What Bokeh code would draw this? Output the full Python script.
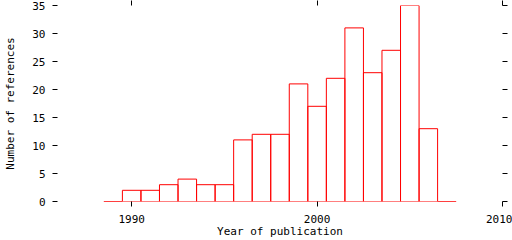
from bokeh.plotting import figure
from bokeh.models import (Range1d, LinearAxis, FixedTicker, ColumnDataSource,
                          CustomLabelingPolicy)
from bokeh.embed import file_html
from bokeh.resources import INLINE

years = list(range(1989, 2008))
counts = [0, 2, 2, 3, 4, 3, 3, 11, 12, 12, 21, 17, 22, 31, 23, 27, 35, 13, 0]
x_ticks = [1990, 2000, 2010]
y_ticks = [0, 5, 10, 15, 20, 25, 30, 35]
x_title = "Year of publication"
y_title = "Number of references"

src = ColumnDataSource(dict(
    left=[y - 0.5 for y in years],
    right=[y + 0.5 for y in years],
    top=counts,
    bottom=[0] * len(years),
))

FONT = "DejaVu Sans Mono"
FS = "11px"
W, H = 512, 240
ML, MR, MT, MB = 57, 10, 5, 39

p = figure(width=W, height=H, output_backend="svg", toolbar_location=None,
           x_range=Range1d(1986, 2010), y_range=Range1d(0, 35),
           x_axis_location=None, y_axis_location=None,
           min_border_left=ML, min_border_right=MR, min_border_top=MT,
           min_border_bottom=MB)
p.outline_line_color = None
p.xgrid.visible = False
p.ygrid.visible = False
p.background_fill_color = "white"
p.border_fill_color = "white"

p.quad(left="left", right="right", top="top", bottom="bottom", source=src,
       fill_color=None, line_color="#ff0000", line_width=1)

hide = CustomLabelingPolicy(
    code="for (let i = 0; i < indices.size; i++) { indices.unset(i) } return indices")

def style(ax, ticks, labels=True):
    ax.ticker = FixedTicker(ticks=ticks)
    ax.axis_line_color = None
    ax.major_tick_in = 0
    ax.major_tick_out = 5
    ax.major_tick_line_color = "black"
    ax.minor_tick_line_color = None
    ax.major_label_text_font = FONT
    ax.major_label_text_font_size = FS if labels else "0px"
    ax.major_label_text_color = "black"
    ax.axis_label_text_font = FONT
    ax.axis_label_text_font_size = FS
    ax.axis_label_text_font_style = "normal"
    ax.axis_label_text_color = "black"
    if not labels:
        ax.major_label_standoff = 0
        ax.major_label_policy = hide

xb = LinearAxis(axis_label=x_title)
style(xb, x_ticks)
xb.major_label_standoff = 8
xb.axis_label_standoff = -1
p.add_layout(xb, "below")

yl = LinearAxis(axis_label=y_title)
style(yl, y_ticks)
yl.major_label_standoff = 7
yl.axis_label_standoff = 12
p.add_layout(yl, "left")

xt = LinearAxis()
style(xt, x_ticks, labels=False)
p.add_layout(xt, "above")

yr = LinearAxis()
style(yr, y_ticks, labels=False)
p.add_layout(yr, "right")

open("out.html", "w").write(file_html(p, INLINE))
